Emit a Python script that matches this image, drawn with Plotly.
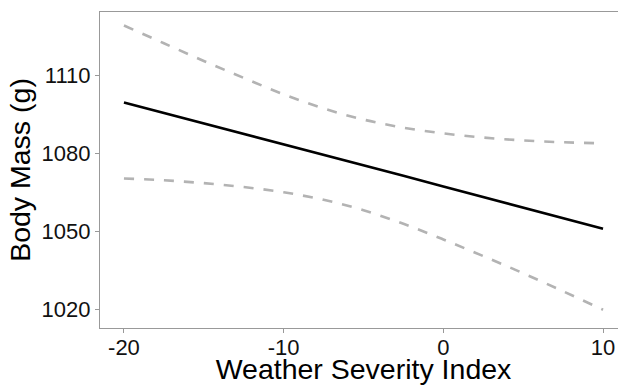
import plotly.graph_objects as go

# Weather Severity Index sample points
x_vals = [-20, -17.5, -15, -12.5, -10, -7.5, -5, -2.5, 0, 2.5, 5, 7.5, 10]
# fitted body mass (g)
fit_vals = [1099.5, 1095.5, 1091.4, 1087.4, 1083.4, 1079.3, 1075.3, 1071.3, 1067.2, 1063.2, 1059.1, 1055.1, 1051.0]
# upper / lower confidence bounds (g)
upper_vals = [1129.0, 1122.2, 1115.4, 1108.9, 1102.6, 1097.2, 1092.9, 1089.8, 1087.6, 1086.0, 1084.9, 1084.2, 1083.8]
lower_vals = [1070.3, 1069.6, 1068.5, 1067.0, 1065.0, 1062.1, 1058.1, 1052.9, 1046.9, 1040.5, 1033.9, 1027.0, 1019.9]

x_ticks = [-20, -10, 0, 10]
y_ticks = [1020, 1050, 1080, 1110]

FONT = "Liberation Sans, Arial, sans-serif"
AXIS_GRAY = "#999999"

fig = go.Figure()
fig.add_trace(go.Scatter(x=x_vals, y=upper_vals, mode="lines",
                         line=dict(color="#b3b3b3", width=2.6, dash="10px,10px", shape="spline", smoothing=1.0),
                         showlegend=False, hoverinfo="skip"))
fig.add_trace(go.Scatter(x=x_vals, y=lower_vals, mode="lines",
                         line=dict(color="#b3b3b3", width=2.6, dash="10px,10px", shape="spline", smoothing=1.0),
                         showlegend=False, hoverinfo="skip"))
fig.add_trace(go.Scatter(x=x_vals, y=fit_vals, mode="lines",
                         line=dict(color="#000000", width=2.6),
                         showlegend=False))

# the reference panel runs past the right edge of the picture, so the figure is a bit wider than the window
fig.update_layout(
    width=627, height=385,
    margin=dict(l=100, r=0, t=12, b=57),
    paper_bgcolor="white", plot_bgcolor="white",
    font=dict(family=FONT, color="#111111"),
    xaxis=dict(
        range=[-21.5, 11.5], tickvals=x_ticks, ticktext=[str(v) for v in x_ticks],
        showgrid=False, zeroline=False,
        showline=True, linecolor=AXIS_GRAY, linewidth=1.2, mirror=True,
        ticks="outside", ticklen=4, tickcolor=AXIS_GRAY, tickwidth=1.2,
        ticklabelstandoff=-5,
        tickfont=dict(size=22, family=FONT, color="#111111"),
        title=dict(text="Weather Severity Index", font=dict(size=28.5, family=FONT, color="#000000"), standoff=0),
    ),
    yaxis=dict(
        range=[1012.9, 1134.2], tickvals=y_ticks, ticktext=[str(v) for v in y_ticks],
        showgrid=False, zeroline=False,
        showline=True, linecolor=AXIS_GRAY, linewidth=1.2, mirror=False,
        ticks="outside", ticklen=4, tickcolor=AXIS_GRAY, tickwidth=1.2,
        tickfont=dict(size=22, family=FONT, color="#111111"),
        title=dict(text="Body Mass (g)", font=dict(size=28.5, family=FONT, color="#000000"), standoff=2),
    ),
)

# remove the browser's default 8px body margin so the figure sits at the page origin
fig.write_html("out.html", config={"displayModeBar": False},
               post_script="document.body.style.margin='0';document.body.style.overflow='hidden';")
